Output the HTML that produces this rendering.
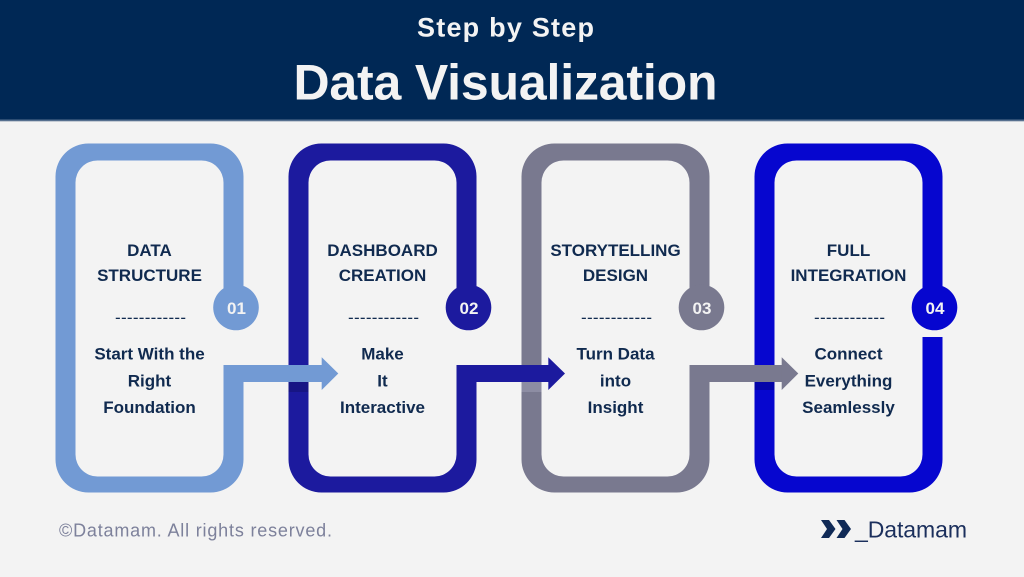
<!DOCTYPE html>
<html>
<head>
<meta charset="utf-8">
<style>
  html,body{margin:0;padding:0;background:#f3f3f3;}
  svg{display:block;}
  .t{font-family:"Liberation Sans",Arial,sans-serif;font-weight:bold;font-size:17px;fill:#102a4f;text-anchor:middle;}
  .d{font-family:"Liberation Sans",Arial,sans-serif;font-size:17px;fill:#102a4f;text-anchor:middle;}
  .n{font-family:"Liberation Sans",Arial,sans-serif;font-weight:bold;font-size:17px;fill:#f3f3f3;text-anchor:middle;}
</style>
</head>
<body>
<svg width="1024" height="577" viewBox="0 0 1024 577" xmlns="http://www.w3.org/2000/svg">
  <rect x="0" y="0" width="1024" height="577" fill="#f3f3f3"/>
  <!-- header -->
  <rect x="0" y="0" width="1024" height="119.5" fill="#002855"/>
  <rect x="0" y="119.5" width="1024" height="1.8" fill="#56708f"/>
  <text x="505.5" y="36.7" font-family="Liberation Sans, Arial, sans-serif" font-weight="bold" font-size="27" fill="#f3f3f3" text-anchor="middle" textLength="177" lengthAdjust="spacing">Step by Step</text>
  <text x="505.5" y="99.3" font-family="Liberation Sans, Arial, sans-serif" font-weight="bold" font-size="50" fill="#f3f3f3" text-anchor="middle" textLength="424" lengthAdjust="spacing">Data Visualization</text>

  <!-- Box 1 -->
  <path fill-rule="evenodd" fill="#729ad4" d="M88.5,143.5 H210.5 A33,33 0 0 1 243.5,176.5 V459.5 A33,33 0 0 1 210.5,492.5 H88.5 A33,33 0 0 1 55.5,459.5 V176.5 A33,33 0 0 1 88.5,143.5 Z M97.5,160.5 H201.5 A22,22 0 0 1 223.5,182.5 V454.5 A22,22 0 0 1 201.5,476.5 H97.5 A22,22 0 0 1 75.5,454.5 V182.5 A22,22 0 0 1 97.5,160.5 Z"/>
  <!-- Box 2 -->
  <path fill-rule="evenodd" fill="#1c1a9e" d="M321.5,143.5 H443.5 A33,33 0 0 1 476.5,176.5 V459.5 A33,33 0 0 1 443.5,492.5 H321.5 A33,33 0 0 1 288.5,459.5 V176.5 A33,33 0 0 1 321.5,143.5 Z M330.5,160.5 H434.5 A22,22 0 0 1 456.5,182.5 V454.5 A22,22 0 0 1 434.5,476.5 H330.5 A22,22 0 0 1 308.5,454.5 V182.5 A22,22 0 0 1 330.5,160.5 Z"/>
  <!-- Box 3 -->
  <path fill-rule="evenodd" fill="#79798f" d="M554.5,143.5 H676.5 A33,33 0 0 1 709.5,176.5 V459.5 A33,33 0 0 1 676.5,492.5 H554.5 A33,33 0 0 1 521.5,459.5 V176.5 A33,33 0 0 1 554.5,143.5 Z M563.5,160.5 H667.5 A22,22 0 0 1 689.5,182.5 V454.5 A22,22 0 0 1 667.5,476.5 H563.5 A22,22 0 0 1 541.5,454.5 V182.5 A22,22 0 0 1 563.5,160.5 Z"/>
  <!-- Box 4 -->
  <path fill-rule="evenodd" fill="#0606cf" d="M787.5,143.5 H909.5 A33,33 0 0 1 942.5,176.5 V459.5 A33,33 0 0 1 909.5,492.5 H787.5 A33,33 0 0 1 754.5,459.5 V176.5 A33,33 0 0 1 787.5,143.5 Z M796.5,160.5 H900.5 A22,22 0 0 1 922.5,182.5 V454.5 A22,22 0 0 1 900.5,476.5 H796.5 A22,22 0 0 1 774.5,454.5 V182.5 A22,22 0 0 1 796.5,160.5 Z"/>

  <!-- gaps in right strokes -->
  <rect x="222" y="315" width="24" height="50" fill="#f3f3f3"/>
  <rect x="455" y="315" width="24" height="50" fill="#f3f3f3"/>
  <rect x="688" y="315" width="24" height="50" fill="#f3f3f3"/>
  <rect x="921" y="315" width="24" height="22" fill="#f3f3f3"/>

  <!-- circles -->
  <circle cx="236" cy="307.5" r="22.8" fill="#729ad4"/>
  <circle cx="468.5" cy="307.5" r="22.8" fill="#1c1a9e"/>
  <circle cx="701.5" cy="307.5" r="22.8" fill="#79798f"/>
  <circle cx="934.5" cy="307.5" r="22.8" fill="#0606cf"/>
  <text class="n" x="236.5" y="314">01</text>
  <text class="n" x="469" y="314">02</text>
  <text class="n" x="702" y="314">03</text>
  <text class="n" x="935" y="314">04</text>

  <!-- arrows -->
  <rect x="223.5" y="365" width="99" height="17" fill="#729ad4"/>
  <polygon points="321.7,357.3 338.3,373.5 321.7,390" fill="#729ad4"/>
  <rect x="288.5" y="382" width="20" height="10" fill="#141273" opacity="0.6"/>

  <rect x="456.5" y="365" width="92.5" height="17" fill="#1c1a9e"/>
  <polygon points="548.3,357.3 565,373.5 548.3,390" fill="#1c1a9e"/>
  <rect x="521.5" y="382" width="20" height="10" fill="#9b9bb0" opacity="0.6"/>

  <rect x="689.5" y="365" width="93" height="17" fill="#79798f"/>
  <polygon points="781.7,357.3 798.3,373.5 781.7,390" fill="#79798f"/>
  <rect x="754.5" y="382" width="20" height="8" fill="#04048f" opacity="0.6"/>

  <!-- texts box 1 -->
  <text class="t" x="149.5" y="256">DATA</text>
  <text class="t" x="149.5" y="281">STRUCTURE</text>
  <text class="d" x="150.5" y="323" textLength="71" lengthAdjust="spacing">------------</text>
  <text class="t" x="149.5" y="359.5">Start With the</text>
  <text class="t" x="149.5" y="386.5">Right</text>
  <text class="t" x="149.5" y="413">Foundation</text>

  <!-- texts box 2 -->
  <text class="t" x="382.5" y="256">DASHBOARD</text>
  <text class="t" x="382.5" y="281">CREATION</text>
  <text class="d" x="383.5" y="323" textLength="71" lengthAdjust="spacing">------------</text>
  <text class="t" x="382.5" y="359.5">Make</text>
  <text class="t" x="382.5" y="386.5">It</text>
  <text class="t" x="382.5" y="413">Interactive</text>

  <!-- texts box 3 -->
  <text class="t" x="615.5" y="256">STORYTELLING</text>
  <text class="t" x="615.5" y="281">DESIGN</text>
  <text class="d" x="616.5" y="323" textLength="71" lengthAdjust="spacing">------------</text>
  <text class="t" x="615.5" y="359.5">Turn Data</text>
  <text class="t" x="615.5" y="386.5">into</text>
  <text class="t" x="615.5" y="413">Insight</text>

  <!-- texts box 4 -->
  <text class="t" x="848.5" y="256">FULL</text>
  <text class="t" x="848.5" y="281">INTEGRATION</text>
  <text class="d" x="849.5" y="323" textLength="71" lengthAdjust="spacing">------------</text>
  <text class="t" x="848.5" y="359.5">Connect</text>
  <text class="t" x="848.5" y="386.5">Everything</text>
  <text class="t" x="848.5" y="413">Seamlessly</text>

  <!-- footer -->
  <text x="59" y="536.7" font-family="Liberation Sans, Arial, sans-serif" font-size="18" fill="#7d819b" textLength="273" lengthAdjust="spacing">©Datamam. All rights reserved.</text>

  <polygon points="821,520 829,520 835.5,529 829,538 821,538 827,529" fill="#102a56"/>
  <polygon points="836.5,520 844.5,520 851,529 844.5,538 836.5,538 842.5,529" fill="#102a56"/>
  <text x="855" y="537.7" font-family="Liberation Sans, Arial, sans-serif" font-size="23" fill="#1b2f5c" textLength="112" lengthAdjust="spacing">_Datamam</text>
</svg>
</body>
</html>
